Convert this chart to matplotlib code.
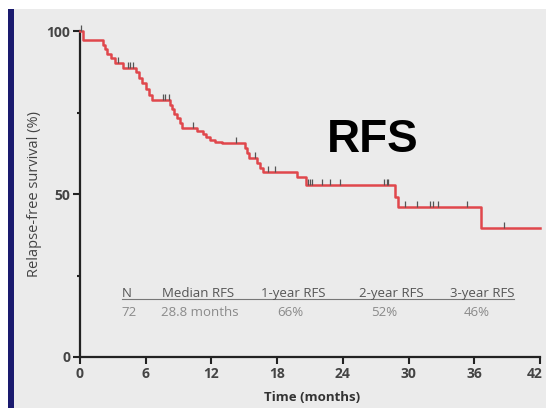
import numpy as np
import matplotlib
matplotlib.use("Agg")
import matplotlib.pyplot as plt
import matplotlib.transforms as mtransforms
from matplotlib.patches import Rectangle
from matplotlib.path import Path

# step-down times (months) and survival (%) just after each drop
event_times = [0.3, 2.1, 2.3, 2.5, 2.8, 3.2, 3.9, 5.1, 5.4, 5.7, 6.0, 6.3, 6.6,
               8.2, 8.4, 8.6, 8.9, 9.1, 9.3, 10.7, 11.2, 11.5, 11.9, 12.3, 13.0,
               15.1, 15.25, 15.4, 16.2, 16.4, 16.7, 19.85, 20.6, 28.8, 29.0, 36.6]
survival = [97.2, 95.8, 94.4, 93.0, 91.6, 90.2, 88.8, 87.3, 85.6, 83.9, 82.2, 80.5, 78.8,
            77.4, 76.0, 74.6, 73.2, 71.8, 70.4, 69.4, 68.4, 67.4, 66.6, 66.0, 65.6,
            64.1, 62.6, 61.0, 59.5, 58.0, 56.7, 55.2, 52.8, 49.1, 46.0, 39.6]
censor_times = [0.1, 3.5, 4.4, 4.6, 4.8, 7.6, 7.8, 8.1, 10.3, 14.2, 16.0, 17.2, 17.8,
                20.8, 21.0, 21.2, 22.1, 22.8, 23.7, 27.8, 28.0, 28.1,
                29.7, 30.8, 32.0, 32.2, 32.7, 35.3, 38.7]

table_headers = ["N", "Median RFS", "1-year RFS", "2-year RFS", "3-year RFS"]
table_values = ["72", "28.8 months", "66%", "52%", "46%"]

x_max = 42
x_ticks = [0, 6, 12, 18, 24, 30, 36, 42]
y_ticks = [0, 50, 100]

fig = plt.figure(figsize=(5.46, 4.08), dpi=100, facecolor="#ebebeb")
# white strip along top and left, navy bar at left (slide frame)
fig.patches.append(Rectangle((0, 0.978), 1, 0.022, transform=fig.transFigure,
                             facecolor="white", edgecolor="none", zorder=0))
fig.patches.append(Rectangle((0, 0), 0.015, 0.978, transform=fig.transFigure,
                             facecolor="white", edgecolor="none", zorder=0))
fig.patches.append(Rectangle((0.015, 0), 0.011, 0.978, transform=fig.transFigure,
                             facecolor="#1a1a6e", edgecolor="none", zorder=1))

ax = fig.add_axes([0.1465, 0.125, 0.8425, 0.799])
ax.set_facecolor("#ebebeb")

# Kaplan-Meier curve
xs = [0] + event_times + [x_max]
ys = [100] + survival + [survival[-1]]
ax.step(xs, ys, where="post", color="#e0474c", lw=1.8, clip_on=False, zorder=3)

# censor marks sitting on the curve
idx = np.searchsorted(event_times, censor_times, side="right")
step_vals = np.array([100] + survival)
tick_marker = Path([(0, 0), (0, 1)])
ax.plot(censor_times, step_vals[idx], ls="none", marker=tick_marker,
        markersize=9, markeredgewidth=0.9, color="#555555", clip_on=False, zorder=4)

ax.set_xlim(0, x_max)
ax.set_ylim(0, 100)
for side in ["top", "right"]:
    ax.spines[side].set_visible(False)
for side in ["left", "bottom"]:
    ax.spines[side].set_linewidth(1.6)
    ax.spines[side].set_color("#222222")

ax.set_xticks(x_ticks)
ax.set_yticks(y_ticks)
ax.set_yticks([25, 75], minor=True)
ax.tick_params(axis="both", which="major", direction="out", length=5, width=1.5,
               color="#222222", labelcolor="#444444", labelsize=10, pad=2)
ax.tick_params(axis="y", which="minor", direction="out", length=2.5, width=1.5,
               color="#222222")
for lab in ax.get_xticklabels() + ax.get_yticklabels():
    lab.set_fontfamily("Open Sans")
    lab.set_fontweight("bold")
# last x label sits right at the figure edge; nudge it in a little
last = ax.get_xticklabels()[-1]
last.set_transform(last.get_transform() +
                   mtransforms.ScaledTranslation(-5 / 100, 0, fig.dpi_scale_trans))

ax.set_xlabel("Time (months)", fontfamily="Open Sans", fontweight="bold",
              fontsize=9.5, color="#333333", labelpad=4)
ax.xaxis.set_label_coords(0.505, -0.105)
ax.set_ylabel("Relapse-free survival (%)", fontfamily="Open Sans",
              fontsize=10.5, color="#444444")
ax.yaxis.set_label_coords(-0.083, 0.5)

# big title inside plot
ax.text(26.7, 66.6, "RFS", fontfamily="Liberation Sans", fontweight="bold",
        fontsize=33, color="black", ha="center", va="center")

# summary table
head_x = [3.8, 10.8, 19.5, 28.4, 36.7]
val_x = [3.8, 10.9, 19.2, 27.8, 36.2]
for i, (h, v) in enumerate(zip(table_headers, table_values)):
    ha = "left" if i == 0 else "center"
    ax.text(head_x[i], 19.6, h, fontfamily="Open Sans", fontsize=9.5,
            color="#555555", ha=ha, va="center")
    ax.text(val_x[i], 13.8, v, fontfamily="Open Sans", fontsize=9.5,
            color="#8a8a8a", ha=ha, va="center")
ax.plot([3.8, 39.6], [17.9, 17.9], color="#777777", lw=0.8)

fig.savefig("out.png", dpi=100, facecolor=fig.get_facecolor())
